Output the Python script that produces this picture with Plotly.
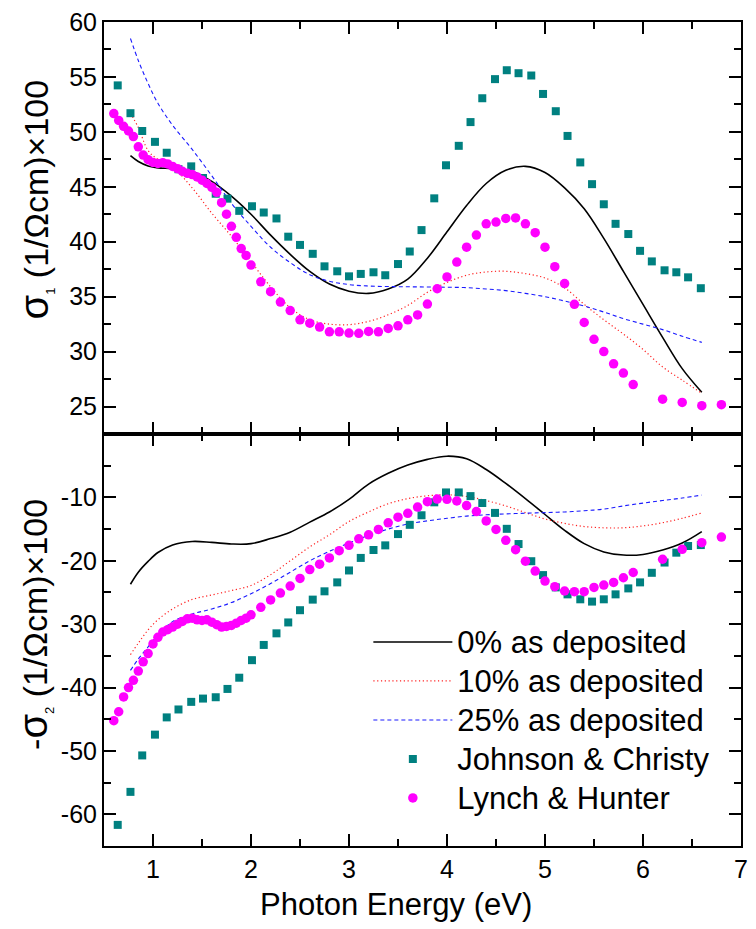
import plotly.graph_objects as go
from plotly.subplots import make_subplots

# ---------------- data ----------------
jc_energy = [0.64, 0.77, 0.89, 1.02, 1.14, 1.26, 1.39, 1.51, 1.64, 1.76, 1.88, 2.01, 2.13, 2.26,
             2.38, 2.50, 2.63, 2.75, 2.88, 3.00, 3.12, 3.25, 3.37, 3.50, 3.62, 3.74, 3.87, 3.99,
             4.12, 4.24, 4.36, 4.49, 4.61, 4.73, 4.86, 4.98, 5.11, 5.23, 5.36, 5.48, 5.60, 5.72,
             5.85, 5.97, 6.09, 6.22, 6.34, 6.46, 6.59]
jc_sigma1 = [54.23, 51.70, 50.08, 49.09, 48.10, 46.60, 46.86, 45.80, 44.37, 43.92, 42.81, 43.23,
             42.66, 42.12, 40.46, 39.71, 38.90, 37.76, 37.31, 36.85, 37.07, 37.22, 36.95, 37.97,
             39.11, 41.06, 43.95, 46.96, 48.73, 50.89, 53.06, 54.80, 55.61, 55.34, 55.13, 53.45,
             51.88, 49.63, 47.22, 45.24, 43.41, 41.63, 40.70, 39.17, 38.21, 37.40, 37.22, 36.76,
             35.77]
jc_neg_sigma2 = [-61.67, -56.46, -50.71, -47.43, -44.71, -43.46, -42.26, -41.74, -41.53, -40.22,
                 -38.45, -35.68, -33.28, -31.45, -29.73, -27.80, -26.13, -24.82, -23.41, -21.53,
                 -19.55, -18.30, -17.57, -15.79, -14.33, -12.82, -10.78, -9.22, -9.22, -9.80,
                 -10.89, -12.45, -14.96, -17.36, -20.07, -22.26, -24.20, -25.30, -26.08, -26.44,
                 -26.08, -25.30, -24.36, -23.41, -21.90, -20.28, -18.72, -17.67, -17.52]

lh_energy = [0.60, 0.65, 0.70, 0.75, 0.80, 0.85, 0.90, 0.95, 1.00, 1.05, 1.10, 1.15, 1.20, 1.25,
             1.30, 1.35, 1.40, 1.45, 1.50, 1.55, 1.60, 1.65, 1.70, 1.75, 1.80, 1.85, 1.90, 1.95,
             2.00, 2.1, 2.2, 2.3, 2.4, 2.5, 2.6, 2.7, 2.8, 2.9, 3.0, 3.1, 3.2, 3.3, 3.4, 3.5, 3.6,
             3.7, 3.8, 3.9, 4.0, 4.1, 4.2, 4.3, 4.4, 4.5, 4.6, 4.7, 4.8, 4.9, 5.0, 5.1, 5.2, 5.3,
             5.4, 5.5, 5.6, 5.7, 5.8, 5.9, 6.2, 6.4, 6.6, 6.8]
lh_sigma1 = [51.67, 51.04, 50.50, 50.08, 49.57, 48.64, 47.89, 47.47, 47.22, 47.13, 47.20, 47.08,
             46.85, 46.65, 46.41, 46.23, 46.11, 45.90, 45.60, 45.30, 44.95, 44.50, 43.55, 42.51,
             41.40, 40.40, 39.38, 38.75, 37.88, 36.35, 35.45, 34.51, 33.73, 32.89, 32.59, 32.23,
             31.80, 31.80, 31.69, 31.66, 31.84, 31.80, 32.11, 32.35, 32.89, 33.34, 34.33, 35.72,
             36.80, 38.15, 39.50, 40.61, 41.63, 41.79, 42.12, 42.17, 41.63, 40.82, 39.50, 37.73,
             36.19, 34.30, 32.65, 31.12, 30.00, 28.89, 28.05, 27.00, 25.67, 25.37, 25.08, 25.17]
lh_neg_sigma2 = [-45.23, -43.82, -41.48, -40.01, -38.86, -37.40, -35.94, -34.64, -33.12, -32.08,
                 -31.24, -30.88, -30.46, -30.00, -29.57, -29.15, -29.05, -29.31, -29.42, -29.31,
                 -29.68, -30.09, -30.46, -30.36, -30.20, -29.84, -29.42, -29.05, -28.53, -27.35,
                 -26.18, -25.09, -23.99, -22.79, -21.38, -20.54, -19.55, -18.41, -17.56, -16.53,
                 -15.90, -15.06, -14.02, -13.13, -12.51, -11.52, -10.68, -10.26, -10.31, -10.57,
                 -11.30, -12.24, -13.71, -15.06, -16.78, -18.25, -20.07, -21.63, -23.20, -24.09,
                 -24.77, -24.88, -24.88, -24.20, -23.83, -23.41, -22.68, -21.85, -19.76, -18.19,
                 -17.15, -16.26]

model_energy = [0.77, 0.85, 0.95, 1.05, 1.2, 1.4, 1.6, 1.8, 2.0, 2.2, 2.4, 2.6, 2.8, 3.0, 3.2,
                3.4, 3.6, 3.8, 4.0, 4.2, 4.4, 4.6, 4.8, 5.0, 5.2, 5.4, 5.6, 5.8, 6.0, 6.2, 6.4, 6.6]
m0_sigma1 = [47.83, 47.3, 46.9, 46.72, 46.65, 46.4, 45.5, 44.15, 42.5, 40.6, 38.85, 37.3, 36.15,
             35.5, 35.3, 35.7, 36.6, 38.5, 40.9, 43.3, 45.3, 46.5, 46.86, 46.3, 44.9, 43.0, 40.3,
             37.3, 34.3, 31.3, 28.45, 26.3]
m10_sigma1 = [51.7, 50.4, 48.3, 47.5, 46.8, 44.9, 42.6, 40.5, 38.2, 35.9, 34.0, 32.9, 32.5, 32.45,
              32.75, 33.35, 34.2, 35.4, 36.3, 36.95, 37.25, 37.31, 37.1, 36.7, 35.8, 34.3, 32.9,
              31.6, 30.2, 28.6, 27.4, 26.2]
m25_sigma1 = [58.5, 56.5, 54.4, 52.6, 50.6, 48.4, 46.0, 43.5, 41.4, 39.5, 38.1, 37.0, 36.4, 36.1,
              35.97, 35.92, 35.9, 35.88, 35.86, 35.82, 35.7, 35.55, 35.3, 35.0, 34.6, 34.15, 33.6,
              33.0, 32.5, 32.0, 31.4, 30.84]
m0_neg_sigma2 = [-23.7, -21.8, -20.1, -18.7, -17.5, -16.95, -17.1, -17.35, -17.3, -16.5, -15.5,
                 -13.9, -12.3, -10.3, -7.9, -6.2, -4.9, -4.0, -3.5, -3.9, -5.6, -7.8, -10.2, -12.7,
                 -15.2, -17.3, -18.6, -19.1, -19.0, -18.3, -17.2, -15.4]
m10_neg_sigma2 = [-34.8, -33.0, -30.9, -29.3, -27.6, -26.1, -25.4, -24.7, -23.9, -22.2, -20.0,
                  -17.8, -15.9, -13.8, -12.3, -11.0, -10.2, -9.75, -9.6, -9.85, -10.5, -11.35,
                  -12.4, -13.4, -14.1, -14.6, -14.8, -14.8, -14.5, -14.0, -13.3, -12.45]
m25_neg_sigma2 = [-37.3, -35.5, -33.6, -31.7, -29.6, -28.4, -27.6, -26.6, -25.2, -23.6, -21.8,
                  -20.0, -18.5, -17.2, -16.0, -15.0, -14.2, -13.7, -13.3, -12.95, -12.75, -12.6,
                  -12.5, -12.4, -12.3, -12.1, -11.85, -11.35, -10.9, -10.5, -10.1, -9.64]

x_range = [0.5, 7]
top_y_range = [22.5, 60]
bottom_y_range = [-65, 0]
x_ticks = [1, 2, 3, 4, 5, 6, 7]
x_minor_ticks = [1.5, 2.5, 3.5, 4.5, 5.5, 6.5]
top_y_ticks = [25, 30, 35, 40, 45, 50, 55, 60]
top_y_minor_ticks = [27.5, 32.5, 37.5, 42.5, 47.5, 52.5, 57.5]
bottom_y_ticks = [-60, -50, -40, -30, -20, -10]
bottom_y_minor_ticks = [-55, -45, -35, -25, -15, -5]

# ---------------- figure ----------------
FONT = "Liberation Sans, Arial, sans-serif"
fig = make_subplots(rows=2, cols=1, shared_xaxes=True, vertical_spacing=0)

lines = [
    ("0% as deposited", m0_sigma1, m0_neg_sigma2, dict(color="black", width=1.6, dash="solid")),
    ("10% as deposited", m10_sigma1, m10_neg_sigma2, dict(color="#ff2020", width=1.2, dash="1.2px,2.6px")),
    ("25% as deposited", m25_sigma1, m25_neg_sigma2, dict(color="#1a1aff", width=1.1, dash="4px,3px")),
]
LEG = '<span style="font-size:31px">%s</span>'
for rank, (name, y1, y2, ln) in enumerate(lines):
    fig.add_trace(go.Scatter(x=model_energy, y=y1, mode="lines", name=LEG % name, line=ln,
                             line_shape="spline", legendrank=rank + 1, showlegend=True),
                  row=1, col=1)
    fig.add_trace(go.Scatter(x=model_energy, y=y2, mode="lines", name=LEG % name, line=ln,
                             line_shape="spline", showlegend=False), row=2, col=1)

jc_marker = dict(symbol="square", size=8, color="#008080")
lh_marker = dict(symbol="circle", size=9.5, color="#ff00ff")
fig.add_trace(go.Scatter(x=jc_energy, y=jc_sigma1, mode="markers", name=LEG % "Johnson & Christy",
                         marker=jc_marker, legendrank=4), row=1, col=1)
fig.add_trace(go.Scatter(x=jc_energy, y=jc_neg_sigma2, mode="markers", name=LEG % "Johnson & Christy",
                         marker=jc_marker, showlegend=False), row=2, col=1)
fig.add_trace(go.Scatter(x=lh_energy, y=lh_sigma1, mode="markers", name=LEG % "Lynch & Hunter",
                         marker=lh_marker, legendrank=5), row=1, col=1)
fig.add_trace(go.Scatter(x=lh_energy, y=lh_neg_sigma2, mode="markers", name=LEG % "Lynch & Hunter",
                         marker=lh_marker, showlegend=False), row=2, col=1)

tick_font = dict(family=FONT, size=25, color="black")


def frame(minor_vals, **kw):
    d = dict(showline=True, linecolor="black", linewidth=2, mirror="ticks",
             ticks="inside", ticklen=12, tickwidth=2, tickcolor="black",
             showgrid=False, zeroline=False, tickfont=tick_font, tickmode="array",
             minor=dict(ticks="inside", ticklen=7, tickwidth=2, tickcolor="black",
                        tickmode="array", tickvals=minor_vals, showgrid=False))
    d.update(kw)
    return d


fig.update_layout(
    xaxis=frame(x_minor_ticks, range=x_range, tickvals=x_ticks, showticklabels=False),
    xaxis2=frame(x_minor_ticks, range=x_range, tickvals=x_ticks,
                 ticktext=[str(v) for v in x_ticks]),
    yaxis=frame(top_y_minor_ticks, range=top_y_range, tickvals=top_y_ticks,
                ticktext=[str(v) for v in top_y_ticks]),
    yaxis2=frame(bottom_y_minor_ticks, range=bottom_y_range, tickvals=bottom_y_ticks,
                 ticktext=[str(v) for v in bottom_y_ticks]),
)

title_font = dict(family=FONT, size=34, color="black")
fig.add_annotation(xref="paper", yref="paper", x=-0.109, y=0.784, textangle=-90,
                   text='<span style="font-size:40px">σ</span><sub><span style="font-size:13px">1</span></sub> (1/Ωcm)×100',
                   showarrow=False, font=title_font, xanchor="center", yanchor="middle")
fig.add_annotation(xref="paper", yref="paper", x=-0.109, y=0.269, textangle=-90,
                   text='-<span style="font-size:40px">σ</span><sub><span style="font-size:13px">2</span></sub> (1/Ωcm)×100',
                   showarrow=False, font=title_font, xanchor="center", yanchor="middle")
fig.add_annotation(xref="paper", yref="paper", x=0.458, y=-0.071,
                   text="Photon Energy (eV)", showarrow=False,
                   font=dict(family=FONT, size=31, color="black"),
                   xanchor="center", yanchor="middle")

fig.update_layout(
    width=756, height=929,
    margin=dict(l=104, r=8, t=15, b=83),
    paper_bgcolor="white", plot_bgcolor="white",
    font=dict(family=FONT, color="black"),
    legend=dict(x=0.415, y=0.2774, xanchor="left", yanchor="top",
                font=dict(family=FONT, size=27.7, color="black"),
                bgcolor="rgba(0,0,0,0)", tracegroupgap=0, itemwidth=79),
)

fig.write_html("out.html")
